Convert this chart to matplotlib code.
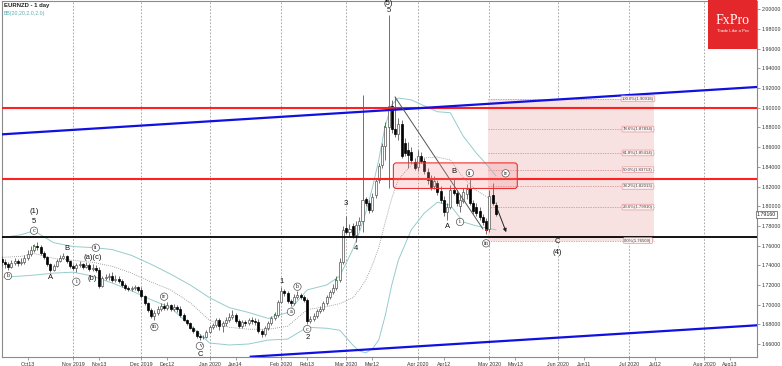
import numpy as np
import pandas as pd
import matplotlib
matplotlib.use("Agg")
import matplotlib.pyplot as plt
from matplotlib.patches import Rectangle, FancyBboxPatch
from matplotlib.ticker import FormatStrFormatter

plt.rcParams['font.family'] = ['Liberation Sans', 'DejaVu Sans']

# ---- calendar: one bar per trading day, bar 0 = 1 Nov 2019 ----
first_bar = "2019-10-02"
holidays = ["2019-12-25", "2020-01-01"]

# ---- EURNZD daily candles (2 Oct 2019 .. 5 May 2020) ----
opens = [
    1.746, 1.743, 1.741, 1.738, 1.742, 1.744, 1.742, 1.743, 1.747, 1.751,
    1.756, 1.760, 1.759, 1.752, 1.748, 1.741, 1.735, 1.739, 1.744, 1.747,
    1.749, 1.744, 1.739, 1.737, 1.740, 1.741, 1.738, 1.740, 1.736, 1.737,
    1.735, 1.719, 1.727, 1.728, 1.729, 1.725, 1.726, 1.724, 1.720, 1.717,
    1.716, 1.717, 1.718, 1.715, 1.709, 1.702, 1.695, 1.688, 1.692, 1.696,
    1.699, 1.697, 1.700, 1.696, 1.698, 1.696, 1.689, 1.684, 1.681, 1.676,
    1.673, 1.668, 1.667, 1.667, 1.672, 1.677, 1.679, 1.684, 1.678, 1.681,
    1.684, 1.687, 1.689, 1.683, 1.678, 1.682, 1.681, 1.684, 1.683, 1.682,
    1.673, 1.670, 1.676, 1.681, 1.686, 1.689, 1.703, 1.714, 1.712, 1.704,
    1.702, 1.708, 1.710, 1.708, 1.705, 1.683, 1.685, 1.688, 1.694, 1.696,
    1.702, 1.708, 1.713, 1.717, 1.725, 1.743, 1.778, 1.774, 1.780, 1.771,
    1.781, 1.785, 1.807, 1.803, 1.796, 1.811, 1.827, 1.842, 1.861, 1.880,
    1.902, 1.878, 1.873, 1.884, 1.864, 1.857, 1.855, 1.845, 1.840, 1.851,
    1.846, 1.835, 1.827, 1.821, 1.824, 1.815, 1.806, 1.794, 1.799, 1.816,
    1.813, 1.800, 1.805, 1.812, 1.818, 1.803, 1.799, 1.795, 1.789, 1.785,
    1.777, 1.811, 1.801,
]
highs = [
    1.749, 1.746, 1.743, 1.745, 1.747, 1.746, 1.747, 1.750, 1.756, 1.760,
    1.762, 1.764, 1.761, 1.755, 1.749, 1.742, 1.741, 1.746, 1.750, 1.752,
    1.750, 1.745, 1.741, 1.742, 1.744, 1.742, 1.743, 1.742, 1.741, 1.740,
    1.738, 1.729, 1.731, 1.732, 1.733, 1.730, 1.729, 1.726, 1.722, 1.719,
    1.719, 1.720, 1.719, 1.718, 1.710, 1.703, 1.697, 1.695, 1.699, 1.702,
    1.702, 1.703, 1.701, 1.701, 1.700, 1.699, 1.691, 1.685, 1.682, 1.678,
    1.674, 1.670, 1.669, 1.674, 1.679, 1.681, 1.686, 1.686, 1.683, 1.687,
    1.691, 1.695, 1.692, 1.685, 1.684, 1.684, 1.686, 1.687, 1.686, 1.685,
    1.675, 1.678, 1.683, 1.688, 1.693, 1.705, 1.718, 1.716, 1.714, 1.706,
    1.711, 1.714, 1.712, 1.710, 1.707, 1.688, 1.691, 1.696, 1.699, 1.704,
    1.710, 1.715, 1.721, 1.729, 1.747, 1.780, 1.790, 1.782, 1.783, 1.785,
    1.789, 1.913, 1.809, 1.806, 1.813, 1.829, 1.844, 1.864, 1.886, 1.994,
    1.908, 1.911, 1.890, 1.888, 1.869, 1.865, 1.860, 1.849, 1.857, 1.855,
    1.849, 1.839, 1.832, 1.831, 1.827, 1.821, 1.810, 1.803, 1.822, 1.829,
    1.816, 1.811, 1.818, 1.823, 1.828, 1.806, 1.803, 1.799, 1.792, 1.788,
    1.816, 1.824, 1.804,
]
lows = [
    1.739, 1.737, 1.735, 1.737, 1.740, 1.739, 1.740, 1.741, 1.745, 1.749,
    1.753, 1.756, 1.750, 1.746, 1.739, 1.733, 1.734, 1.738, 1.743, 1.746,
    1.742, 1.737, 1.735, 1.733, 1.738, 1.736, 1.737, 1.734, 1.734, 1.733,
    1.717, 1.718, 1.725, 1.725, 1.723, 1.723, 1.722, 1.718, 1.715, 1.714,
    1.714, 1.715, 1.713, 1.707, 1.700, 1.693, 1.686, 1.684, 1.689, 1.694,
    1.695, 1.695, 1.694, 1.694, 1.693, 1.687, 1.683, 1.679, 1.675, 1.671,
    1.666, 1.664, 1.665, 1.666, 1.671, 1.675, 1.677, 1.674, 1.672, 1.678,
    1.682, 1.685, 1.681, 1.676, 1.676, 1.678, 1.679, 1.680, 1.679, 1.671,
    1.667, 1.668, 1.674, 1.679, 1.684, 1.687, 1.702, 1.709, 1.702, 1.699,
    1.700, 1.706, 1.706, 1.703, 1.680, 1.681, 1.683, 1.686, 1.692, 1.694,
    1.700, 1.706, 1.711, 1.715, 1.723, 1.741, 1.772, 1.770, 1.768, 1.764,
    1.776, 1.774, 1.800, 1.793, 1.794, 1.808, 1.824, 1.839, 1.847, 1.818,
    1.874, 1.870, 1.867, 1.849, 1.851, 1.839, 1.844, 1.837, 1.836, 1.844,
    1.833, 1.823, 1.816, 1.817, 1.811, 1.803, 1.790, 1.786, 1.797, 1.811,
    1.800, 1.794, 1.803, 1.807, 1.801, 1.792, 1.790, 1.786, 1.781, 1.772,
    1.774, 1.801, 1.790,
]
closes = [
    1.743, 1.741, 1.738, 1.742, 1.744, 1.742, 1.743, 1.747, 1.751, 1.756,
    1.760, 1.759, 1.752, 1.748, 1.741, 1.735, 1.739, 1.744, 1.747, 1.749,
    1.744, 1.739, 1.737, 1.740, 1.741, 1.738, 1.740, 1.736, 1.737, 1.735,
    1.719, 1.727, 1.728, 1.729, 1.725, 1.726, 1.724, 1.720, 1.717, 1.716,
    1.717, 1.718, 1.715, 1.709, 1.702, 1.695, 1.688, 1.692, 1.696, 1.699,
    1.697, 1.700, 1.696, 1.698, 1.696, 1.689, 1.684, 1.681, 1.676, 1.673,
    1.668, 1.667, 1.667, 1.672, 1.677, 1.679, 1.684, 1.678, 1.681, 1.684,
    1.687, 1.689, 1.683, 1.678, 1.682, 1.681, 1.684, 1.683, 1.682, 1.673,
    1.670, 1.676, 1.681, 1.686, 1.689, 1.703, 1.714, 1.712, 1.704, 1.702,
    1.708, 1.710, 1.708, 1.705, 1.683, 1.685, 1.688, 1.694, 1.696, 1.702,
    1.708, 1.713, 1.717, 1.725, 1.743, 1.776, 1.774, 1.777, 1.771, 1.781,
    1.785, 1.806, 1.803, 1.796, 1.809, 1.826, 1.841, 1.861, 1.880, 1.902,
    1.878, 1.873, 1.884, 1.851, 1.854, 1.852, 1.847, 1.839, 1.851, 1.846,
    1.836, 1.827, 1.820, 1.826, 1.814, 1.806, 1.794, 1.799, 1.816, 1.813,
    1.803, 1.806, 1.814, 1.817, 1.803, 1.795, 1.793, 1.789, 1.784, 1.776,
    1.810, 1.803, 1.7916,
]
last_price = 1.79160
green_marks = ["2019-10-16", "2020-01-30", "2020-02-26", "2020-03-18"]
red_marks = ["2020-04-30"]

bb_dates = ["2019-10-02", "2019-10-10", "2019-10-16", "2019-10-24", "2019-11-01",
            "2019-11-11", "2019-11-19", "2019-11-27", "2019-12-05", "2019-12-13",
            "2019-12-23", "2020-01-02", "2020-01-10", "2020-01-20", "2020-01-28",
            "2020-02-05", "2020-02-13", "2020-02-21", "2020-02-27", "2020-03-04",
            "2020-03-06", "2020-03-10", "2020-03-12", "2020-03-16", "2020-03-18",
            "2020-03-20", "2020-03-24", "2020-03-30", "2020-04-03", "2020-04-09",
            "2020-04-15", "2020-04-21", "2020-04-27", "2020-04-30", "2020-05-05"]
bb_upper = [1.768, 1.771, 1.775, 1.763, 1.759, 1.758, 1.756, 1.750, 1.741, 1.731,
            1.720, 1.707, 1.697, 1.692, 1.686, 1.692, 1.715, 1.720, 1.729, 1.756,
            1.773, 1.794, 1.818, 1.847, 1.882, 1.903, 1.910, 1.908, 1.902, 1.896,
            1.895, 1.871, 1.854, 1.843, 1.831]
bb_middle = [1.748, 1.749, 1.752, 1.747, 1.745, 1.743, 1.739, 1.732, 1.723, 1.715,
             1.702, 1.684, 1.677, 1.675, 1.675, 1.678, 1.695, 1.698, 1.701, 1.707,
             1.715, 1.725, 1.740, 1.758, 1.784, 1.808, 1.827, 1.842, 1.849, 1.850,
             1.847, 1.829, 1.816, 1.810, 1.803]
bb_lower = [1.728, 1.729, 1.730, 1.732, 1.733, 1.729, 1.722, 1.714, 1.705, 1.697,
            1.679, 1.661, 1.659, 1.660, 1.664, 1.665, 1.677, 1.676, 1.674, 1.659,
            1.653, 1.651, 1.655, 1.664, 1.689, 1.720, 1.745, 1.776, 1.793, 1.804,
            1.801, 1.784, 1.780, 1.778, 1.776]

# ---- drawn levels / objects ----
red_levels = [1.9000, 1.8280]
black_level = 1.7685
upper_channel = [("2019-10-02", 1.873), ("2020-08-11", 1.919)]
lower_channel = [("2020-03-24", 1.6564), ("2020-08-11", 1.6769)]
trend_line = [("2020-03-23", 1.911), ("2020-04-29", 1.777)]
arrow_pts = [("2020-05-05", 1.801), ("2020-05-08", 1.771)]
zone_dates = ["2020-03-20", "2020-05-13"]
zone_prices = [1.818, 1.844]
fib_dates = ["2020-04-30", "2020-07-10"]
fib_high, fib_low = 1.90918, 1.76509
fib_ratios = [1.0, 0.786, 0.618, 0.5, 0.382, 0.236, 0.0]

wave_labels = [
    ("(1)", "2019-10-16", 1.7944, False), ("5", "2019-10-16", 1.7843, False),
    ("c", "2019-10-16", 1.7751, True), ("b", "2019-10-04", 1.7291, True),
    ("A", "2019-10-23", 1.7271, False), ("B", "2019-10-30", 1.7575, False),
    ("i", "2019-11-04", 1.7233, True), ("(a)(c)", "2019-11-11", 1.7481, False),
    ("ii", "2019-11-12", 1.7578, True), ("(b)", "2019-11-11", 1.7267, False),
    ("iii", "2019-12-06", 1.6773, True), ("iv", "2019-12-11", 1.7081, True),
    ("v", "2019-12-27", 1.6580, True), ("C", "2019-12-27", 1.6493, False),
    ("1", "2020-02-03", 1.7233, False), ("a", "2020-02-06", 1.6928, True),
    ("b", "2020-02-10", 1.7182, True), ("c", "2020-02-13", 1.6752, True),
    ("2", "2020-02-13", 1.6661, False), ("3", "2020-03-02", 1.8032, False),
    ("4", "2020-03-05", 1.7575, False), ("(5)", "2020-03-19", 2.0062, False),
    ("5", "2020-03-19", 1.9985, False), ("A", "2020-04-14", 1.7789, False),
    ("B", "2020-04-16", 1.8348, False), ("i", "2020-04-20", 1.7840, True),
    ("ii", "2020-04-23", 1.8337, True), ("iii", "2020-04-30", 1.7623, True),
    ("iv", "2020-05-08", 1.8334, True), ("C", "2020-06-01", 1.7642, False),
    ("(4)", "2020-06-01", 1.7533, False),
]

tick_labels = ["Oct13", "Nov 2019", "Nov13", "Dec 2019", "Dec12", "Jan 2020", "Jan14",
               "Feb 2020", "Feb13", "Mar 2020", "Mar12", "Apr 2020", "Apr12", "May 2020",
               "May13", "Jun 2020", "Jun11", "Jul 2020", "Jul12", "Aug 2020", "Aug13"]
tick_dates = ["2019-10-13", "2019-11-01", "2019-11-13", "2019-12-01", "2019-12-12",
              "2020-01-01", "2020-01-14", "2020-02-01", "2020-02-13", "2020-03-01",
              "2020-03-12", "2020-04-01", "2020-04-12", "2020-05-01", "2020-05-13",
              "2020-06-01", "2020-06-11", "2020-07-01", "2020-07-12", "2020-08-01",
              "2020-08-13"]

cal = pd.bdate_range("2019-09-01", "2020-09-30")
cal = cal[~cal.isin(pd.to_datetime(holidays))]
origin = cal.searchsorted(pd.Timestamp("2019-11-01"))


def pos(d):
    return cal.searchsorted(pd.Timestamp(d)) - origin


W, H = 782, 366
fig = plt.figure(figsize=(W / 100, H / 100), dpi=100)
ax = fig.add_axes([1.5 / W, 9.3 / H, 755.5 / W, 355.7 / H])
ax.set_xlim(-22.0, 210.3)
ax.set_ylim(1.6471, 2.0085)

# month grid
for d, lab in zip(tick_dates, tick_labels):
    if " " in lab:
        ax.axvline(pos(d), color="#9a9a9a", lw=0.6, ls=(0, (2, 2)), zorder=0)

# fibonacci zone
fx0, fx1 = pos(fib_dates[0]) + 0.5, pos(fib_dates[1]) + 0.5
ax.add_patch(Rectangle((fx0, fib_low), fx1 - fx0, fib_high - fib_low,
                       fc="#f7e1e1", ec="none", zorder=0.5))
for r in fib_ratios:
    lv = fib_low + r * (fib_high - fib_low)
    ax.hlines(lv, fx0, fx1, colors="#cc8a8a", lw=0.5, linestyles=(0, (2, 1.5)), zorder=0.8)
    ax.text(fx1 - 4.8, lv, f"{r * 100:.1f}%({lv:.5f})", fontsize=3.1, color="#444",
            ha="center", va="center", zorder=8,
            bbox=dict(boxstyle="round,pad=0.2", fc="#fdf0f0", ec="#e39a9a", lw=0.5))

# bollinger bands
bx = [pos(d) for d in bb_dates]
ax.plot(bx, bb_upper, color="#96cccc", lw=0.7, zorder=2)
ax.plot(bx, bb_lower, color="#96cccc", lw=0.7, zorder=2)
ax.plot(bx, bb_middle, color="#8a8a8a", lw=0.6, ls=(0, (1, 1.5)), zorder=2)

# candles
o = np.array(opens)
h = np.array(highs)
l = np.array(lows)
c = np.array(closes)
x = pos(first_bar) + np.arange(len(c))
up = c >= o
ax.vlines(x, l, h, color="#5a5a5a", lw=0.6, zorder=3)
body_lo = np.minimum(o, c)
body_h = np.maximum(np.abs(c - o), 0.0006)
ax.bar(x[up], body_h[up], bottom=body_lo[up], width=0.62, color="white",
       edgecolor="#555555", lw=0.5, zorder=4)
ax.bar(x[~up], body_h[~up], bottom=body_lo[~up], width=0.62, color="black",
       edgecolor="black", lw=0.5, zorder=4)
for marks, col in ((green_marks, "#3c9a46"), (red_marks, "#d22")):
    idx = [pos(d) - pos(first_bar) for d in marks]
    ax.scatter(x[idx], c[idx], marker="s", s=2.5, color=col, lw=0, zorder=5)

# horizontal levels and channel lines
for lv in red_levels:
    ax.axhline(lv, color="#ff2020", lw=1.5, zorder=6)
ax.axhline(black_level, color="black", lw=1.3, zorder=6)
for pts in (upper_channel, lower_channel):
    ax.axline((pos(pts[0][0]), pts[0][1]), (pos(pts[1][0]), pts[1][1]),
              color="#1010e0", lw=1.6, zorder=6)
ax.plot([pos(trend_line[0][0]), pos(trend_line[1][0])],
        [trend_line[0][1], trend_line[1][1]], color="#555", lw=0.7, zorder=6)
ax.annotate("", xy=(pos(arrow_pts[1][0]) + 0.5, arrow_pts[1][1]),
            xytext=(pos(arrow_pts[0][0]), arrow_pts[0][1]),
            arrowprops=dict(arrowstyle="-|>", color="#222", lw=0.7, mutation_scale=5),
            zorder=7)

# resistance zone
zx0, zx1 = pos(zone_dates[0]) + 0.5, pos(zone_dates[1]) + 0.6
ax.add_patch(FancyBboxPatch((zx0, zone_prices[0]), zx1 - zx0, zone_prices[1] - zone_prices[0],
                            boxstyle="round,pad=0,rounding_size=0.9", mutation_aspect=0.0033,
                            fc=(0.97, 0.55, 0.55, 0.25), ec="#f03030", lw=0.8, zorder=7))

# wave labels
for txt, d, p, circ in wave_labels:
    if circ:
        ax.text(pos(d), p, txt, fontsize=3.4, ha="center", va="center", color="#222",
                family="DejaVu Serif", zorder=9,
                bbox=dict(boxstyle="circle,pad=0.25", fc="white", ec="#555", lw=0.5))
    else:
        ax.text(pos(d), p, txt, fontsize=5.5, ha="center", va="center", color="#111", zorder=9)

# axes styling
ax.set_xticks([pos(d) for d in tick_dates])
ax.set_xticklabels(tick_labels)
ax.set_yticks(np.arange(1.66, 2.0001, 0.02))
ax.yaxis.set_major_formatter(FormatStrFormatter("%.5f"))
ax.yaxis.tick_right()
ax.tick_params(axis="both", labelsize=3.8, length=2, width=0.5, pad=1.5,
               color="#777", labelcolor="#333")
for s in ax.spines.values():
    s.set_color("#8a8a8a")
    s.set_linewidth(0.8)

ax.text(1.0, last_price, "1.79160", transform=ax.get_yaxis_transform(), fontsize=3.8,
        color="#222", ha="left", va="center", zorder=9, clip_on=False,
        bbox=dict(boxstyle="square,pad=0.2", fc="white", ec="#555", lw=0.5))

# header texts
fig.text(4 / W, 1 - 5 / H, "EURNZD - 1 day", fontsize=4.3, weight="bold", color="#222",
         ha="left", va="center")
fig.text(4 / W, 1 - 13 / H, "BB(20,20,2.0,2.0)", fontsize=3.8, color="#5aaeb0",
         ha="left", va="center")

# logo
fig.patches.append(Rectangle((708 / W, 1 - 49 / H), 49 / W, 49 / H, transform=fig.transFigure,
                             fc="#e3272b", ec="none", zorder=10))
fig.text(733 / W, 1 - 21 / H, "FxPro", fontsize=10, color="white", family="Liberation Serif",
         ha="center", va="center", zorder=11)
fig.text(733 / W, 1 - 31.5 / H, "Trade Like a Pro", fontsize=3.2, color="white",
         ha="center", va="center", zorder=11)

fig.savefig("out.png", dpi=100)
